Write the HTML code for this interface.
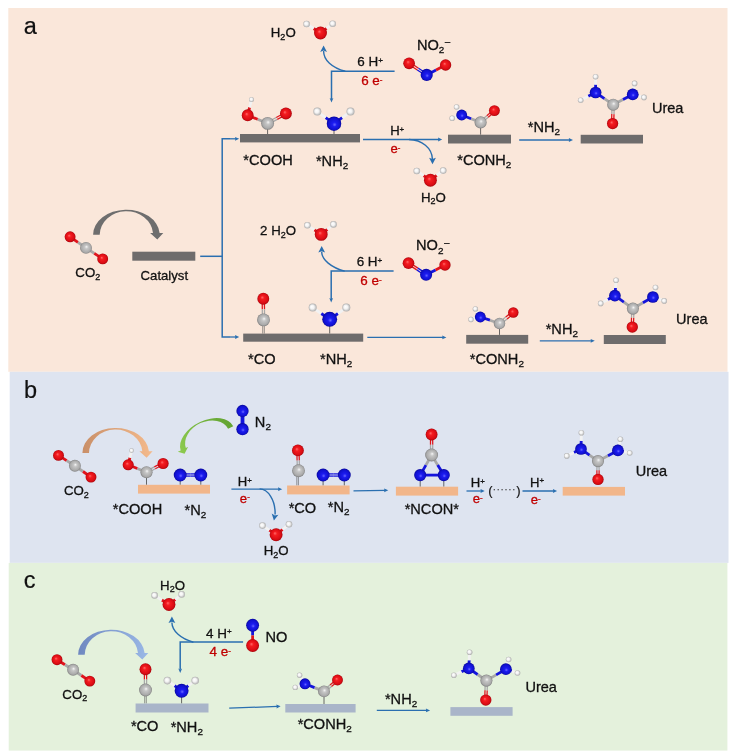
<!DOCTYPE html><html><head><meta charset="utf-8"><style>html,body{margin:0;padding:0;background:#fff;}svg{display:block;will-change:transform;filter:blur(0.3px);}text{font-family:"Liberation Sans",sans-serif;}</style></head><body>
<svg width="739" height="754" viewBox="0 0 739 754">
<defs>
<radialGradient id="gO" cx="50%" cy="50%" r="50%" fx="40%" fy="38%"><stop offset="0" stop-color="#FF6A6A"/><stop offset="0.3" stop-color="#F41C20"/><stop offset="0.8" stop-color="#DA0C14"/><stop offset="1" stop-color="#A8060C"/></radialGradient>
<radialGradient id="gN" cx="50%" cy="50%" r="50%" fx="55%" fy="58%"><stop offset="0" stop-color="#6A6AFF"/><stop offset="0.3" stop-color="#1C1CF0"/><stop offset="0.8" stop-color="#1010D0"/><stop offset="1" stop-color="#08089A"/></radialGradient>
<radialGradient id="gC" cx="50%" cy="50%" r="50%" fx="55%" fy="40%"><stop offset="0" stop-color="#F6F6F6"/><stop offset="0.3" stop-color="#C6C6C6"/><stop offset="0.8" stop-color="#AAAAAA"/><stop offset="1" stop-color="#808080"/></radialGradient>
<radialGradient id="gH" cx="50%" cy="50%" r="55%" fx="38%" fy="38%"><stop offset="0" stop-color="#FFFFFF"/><stop offset="0.45" stop-color="#F2F2F2"/><stop offset="1" stop-color="#A0A0A0"/></radialGradient>
<linearGradient id="gOr" x1="0" y1="0" x2="1" y2="0"><stop offset="0" stop-color="#C98F68"/><stop offset="1" stop-color="#F4BA8C"/></linearGradient>
<linearGradient id="gGr" x1="0" y1="0" x2="1" y2="0"><stop offset="0" stop-color="#62A332"/><stop offset="1" stop-color="#8ECB50"/></linearGradient>
<linearGradient id="gBl" x1="0" y1="0" x2="1" y2="0"><stop offset="0" stop-color="#6F88C0"/><stop offset="1" stop-color="#9AB8E6"/></linearGradient>
</defs>
<rect x="8.3" y="8" width="719.2" height="363.8" fill="#FAE7DA"/>
<rect x="9.7" y="371.8" width="718.8" height="191.1" fill="#DEE4F0"/>
<rect x="8.7" y="562.9" width="718.7" height="187.7" fill="#E4F1DC"/>
<line x1="320.5" y1="33.0" x2="313.6" y2="28.5" stroke="#E0141C" stroke-width="2.8"/>
<line x1="313.6" y1="28.5" x2="306.6" y2="24.0" stroke="#F2F2F2" stroke-width="2.8"/>
<line x1="320.5" y1="33.0" x2="326.6" y2="28.4" stroke="#E0141C" stroke-width="2.8"/>
<line x1="326.6" y1="28.4" x2="332.7" y2="23.7" stroke="#F2F2F2" stroke-width="2.8"/>
<circle cx="320.5" cy="33.0" r="6.45" fill="url(#gO)"/>
<circle cx="306.6" cy="24.0" r="3.30" fill="url(#gH)"/>
<circle cx="332.7" cy="23.7" r="3.30" fill="url(#gH)"/>
<path d="M345.3,71.2 C332,68 323.5,60 323.6,51" fill="none" stroke="#2A6FB0" stroke-width="1.4"/>
<polygon points="323.6,45.4 327.0,51.9 323.6,50.6 320.2,51.9" fill="#2A6FB0"/>
<polyline points="394.6,71.2 331.5,71.2 331.5,99" fill="none" stroke="#2A6FB0" stroke-width="1.5"/>
<polygon points="331.5,102.5 329.6,98.0 331.5,98.9 333.4,98.0" fill="#2A6FB0"/>
<line x1="409.7" y1="62.4" x2="418.5" y2="68.2" stroke="#E0141C" stroke-width="1.26"/>
<line x1="418.5" y1="68.2" x2="427.3" y2="74.0" stroke="#1414DC" stroke-width="1.26"/>
<line x1="408.5" y1="64.2" x2="417.3" y2="70.0" stroke="#E0141C" stroke-width="1.26"/>
<line x1="417.3" y1="70.0" x2="426.1" y2="75.8" stroke="#1414DC" stroke-width="1.26"/>
<line x1="426.7" y1="74.9" x2="436.1" y2="70.0" stroke="#1414DC" stroke-width="2.8"/>
<line x1="436.1" y1="70.0" x2="445.6" y2="65.0" stroke="#E0141C" stroke-width="2.8"/>
<circle cx="409.1" cy="63.3" r="5.85" fill="url(#gO)"/>
<circle cx="426.7" cy="74.9" r="6.05" fill="url(#gN)"/>
<circle cx="445.6" cy="65.0" r="5.65" fill="url(#gO)"/>
<line x1="267.6" y1="128" x2="267.6" y2="134" stroke="#444" stroke-width="0.8"/>
<line x1="334" y1="129" x2="334" y2="134" stroke="#444" stroke-width="0.8"/>
<rect x="240" y="134" width="120.0" height="8.4" fill="#6E6C6C"/>
<line x1="267.6" y1="123.4" x2="257.6" y2="119.3" stroke="#A8A8A8" stroke-width="2.8"/>
<line x1="257.6" y1="119.3" x2="247.7" y2="115.3" stroke="#E0141C" stroke-width="2.8"/>
<line x1="267.1" y1="122.4" x2="276.2" y2="117.5" stroke="#A8A8A8" stroke-width="1.26"/>
<line x1="276.2" y1="117.5" x2="285.4" y2="112.5" stroke="#E0141C" stroke-width="1.26"/>
<line x1="268.1" y1="124.4" x2="277.3" y2="119.4" stroke="#A8A8A8" stroke-width="1.26"/>
<line x1="277.3" y1="119.4" x2="286.4" y2="114.5" stroke="#E0141C" stroke-width="1.26"/>
<line x1="247.7" y1="115.3" x2="249.6" y2="107.4" stroke="#E0141C" stroke-width="2.8"/>
<line x1="249.6" y1="107.4" x2="251.5" y2="99.5" stroke="#F2F2F2" stroke-width="2.8"/>
<circle cx="267.6" cy="123.4" r="6.45" fill="url(#gC)"/>
<circle cx="247.7" cy="115.3" r="5.95" fill="url(#gO)"/>
<circle cx="285.9" cy="113.5" r="5.95" fill="url(#gO)"/>
<circle cx="251.5" cy="99.5" r="2.50" fill="url(#gH)"/>
<line x1="334.0" y1="123.7" x2="325.6" y2="117.7" stroke="#1414DC" stroke-width="2.8"/>
<line x1="325.6" y1="117.7" x2="317.3" y2="111.6" stroke="#F2F2F2" stroke-width="2.8"/>
<line x1="334.0" y1="123.7" x2="342.2" y2="117.7" stroke="#1414DC" stroke-width="2.8"/>
<line x1="342.2" y1="117.7" x2="350.5" y2="111.6" stroke="#F2F2F2" stroke-width="2.8"/>
<circle cx="334.0" cy="123.7" r="7.25" fill="url(#gN)"/>
<circle cx="317.3" cy="111.6" r="4.00" fill="url(#gH)"/>
<circle cx="350.5" cy="111.6" r="4.00" fill="url(#gH)"/>
<polyline points="200.2,256.3 222.2,256.3" fill="none" stroke="#2A6FB0" stroke-width="1.5"/>
<polyline points="230,138.8 222.2,138.8 222.2,337 230,337" fill="none" stroke="#2A6FB0" stroke-width="1.5"/>
<line x1="230" y1="138.8" x2="236.20" y2="138.80" stroke="#2A6FB0" stroke-width="1.3"/>
<polygon points="239.2,138.8 235.0,140.7 235.4,138.8 235.0,136.9" fill="#2A6FB0"/>
<line x1="230" y1="337" x2="236.20" y2="337.00" stroke="#2A6FB0" stroke-width="1.3"/>
<polygon points="239.2,337.0 235.0,338.9 235.4,337.0 235.0,335.1" fill="#2A6FB0"/>
<line x1="363" y1="139.5" x2="439.20" y2="139.50" stroke="#2A6FB0" stroke-width="1.3"/>
<polygon points="442.2,139.5 438.0,141.4 438.4,139.5 438.0,137.6" fill="#2A6FB0"/>
<path d="M409,139.5 C422,139.8 432,148 432.4,159" fill="none" stroke="#2A6FB0" stroke-width="1.4"/>
<polygon points="432.5,164.2 429.1,157.7 432.5,159.0 435.9,157.7" fill="#2A6FB0"/>
<line x1="430.4" y1="180.2" x2="423.6" y2="175.6" stroke="#E0141C" stroke-width="2.8"/>
<line x1="423.6" y1="175.6" x2="416.8" y2="171.0" stroke="#F2F2F2" stroke-width="2.8"/>
<line x1="430.4" y1="180.2" x2="436.8" y2="175.4" stroke="#E0141C" stroke-width="2.8"/>
<line x1="436.8" y1="175.4" x2="443.2" y2="170.6" stroke="#F2F2F2" stroke-width="2.8"/>
<circle cx="430.4" cy="180.2" r="6.45" fill="url(#gO)"/>
<circle cx="416.8" cy="171.0" r="3.30" fill="url(#gH)"/>
<circle cx="443.2" cy="170.6" r="3.30" fill="url(#gH)"/>
<line x1="480.6" y1="128" x2="480.6" y2="134.7" stroke="#444" stroke-width="0.8"/>
<rect x="448" y="134.7" width="63.0" height="8.8" fill="#6E6C6C"/>
<line x1="479.9" y1="121.6" x2="486.8" y2="115.7" stroke="#A8A8A8" stroke-width="1.26"/>
<line x1="486.8" y1="115.7" x2="493.7" y2="109.8" stroke="#E0141C" stroke-width="1.26"/>
<line x1="481.3" y1="123.2" x2="488.2" y2="117.3" stroke="#A8A8A8" stroke-width="1.26"/>
<line x1="488.2" y1="117.3" x2="495.1" y2="111.4" stroke="#E0141C" stroke-width="1.26"/>
<line x1="480.6" y1="122.4" x2="471.1" y2="118.7" stroke="#A8A8A8" stroke-width="2.8"/>
<line x1="471.1" y1="118.7" x2="461.7" y2="115.0" stroke="#1414DC" stroke-width="2.8"/>
<line x1="461.7" y1="115.0" x2="459.1" y2="111.0" stroke="#1414DC" stroke-width="2.8"/>
<line x1="459.1" y1="111.0" x2="456.6" y2="107.0" stroke="#F2F2F2" stroke-width="2.8"/>
<line x1="461.7" y1="115.0" x2="456.9" y2="116.7" stroke="#1414DC" stroke-width="2.8"/>
<line x1="456.9" y1="116.7" x2="452.2" y2="118.3" stroke="#F2F2F2" stroke-width="2.8"/>
<circle cx="480.6" cy="122.4" r="6.05" fill="url(#gC)"/>
<circle cx="494.4" cy="110.6" r="5.45" fill="url(#gO)"/>
<circle cx="461.7" cy="115.0" r="5.45" fill="url(#gN)"/>
<circle cx="456.6" cy="107.0" r="2.80" fill="url(#gH)"/>
<circle cx="452.2" cy="118.3" r="2.80" fill="url(#gH)"/>
<line x1="519.2" y1="140" x2="570.00" y2="140.00" stroke="#2A6FB0" stroke-width="1.3"/>
<polygon points="573.0,140.0 568.8,141.9 569.2,140.0 568.8,138.1" fill="#2A6FB0"/>
<rect x="580.7" y="134.8" width="62.3" height="8.7" fill="#6E6C6C"/>
<line x1="614.3" y1="104.7" x2="614.0" y2="114.2" stroke="#A8A8A8" stroke-width="1.26"/>
<line x1="614.0" y1="114.2" x2="613.7" y2="123.6" stroke="#E0141C" stroke-width="1.26"/>
<line x1="612.1" y1="104.7" x2="611.8" y2="114.1" stroke="#A8A8A8" stroke-width="1.26"/>
<line x1="611.8" y1="114.1" x2="611.5" y2="123.6" stroke="#E0141C" stroke-width="1.26"/>
<line x1="613.2" y1="104.7" x2="604.4" y2="98.6" stroke="#A8A8A8" stroke-width="2.8"/>
<line x1="604.4" y1="98.6" x2="595.6" y2="92.5" stroke="#1414DC" stroke-width="2.8"/>
<line x1="613.2" y1="104.7" x2="623.0" y2="99.6" stroke="#A8A8A8" stroke-width="2.8"/>
<line x1="623.0" y1="99.6" x2="632.7" y2="94.4" stroke="#1414DC" stroke-width="2.8"/>
<line x1="595.6" y1="92.5" x2="595.6" y2="84.6" stroke="#1414DC" stroke-width="2.8"/>
<line x1="595.6" y1="84.6" x2="595.6" y2="76.7" stroke="#F2F2F2" stroke-width="2.8"/>
<line x1="595.6" y1="92.5" x2="588.2" y2="96.3" stroke="#1414DC" stroke-width="2.8"/>
<line x1="588.2" y1="96.3" x2="580.7" y2="100.2" stroke="#F2F2F2" stroke-width="2.8"/>
<line x1="632.7" y1="94.4" x2="633.7" y2="88.9" stroke="#1414DC" stroke-width="2.8"/>
<line x1="633.7" y1="88.9" x2="634.6" y2="83.4" stroke="#F2F2F2" stroke-width="2.8"/>
<line x1="632.7" y1="94.4" x2="638.4" y2="95.9" stroke="#1414DC" stroke-width="2.8"/>
<line x1="638.4" y1="95.9" x2="644.0" y2="97.4" stroke="#F2F2F2" stroke-width="2.8"/>
<circle cx="613.2" cy="104.7" r="6.05" fill="url(#gC)"/>
<circle cx="612.6" cy="123.6" r="5.65" fill="url(#gO)"/>
<circle cx="595.6" cy="92.5" r="5.85" fill="url(#gN)"/>
<circle cx="632.7" cy="94.4" r="5.85" fill="url(#gN)"/>
<circle cx="595.6" cy="76.7" r="2.80" fill="url(#gH)"/>
<circle cx="580.7" cy="100.2" r="2.80" fill="url(#gH)"/>
<circle cx="634.6" cy="83.4" r="2.80" fill="url(#gH)"/>
<circle cx="644.0" cy="97.4" r="2.80" fill="url(#gH)"/>
<line x1="70.1" y1="236.8" x2="78.0" y2="242.4" stroke="#E0141C" stroke-width="2.8"/>
<line x1="78.0" y1="242.4" x2="86.0" y2="247.9" stroke="#A8A8A8" stroke-width="2.8"/>
<line x1="86.0" y1="247.9" x2="94.3" y2="253.4" stroke="#A8A8A8" stroke-width="2.8"/>
<line x1="94.3" y1="253.4" x2="102.7" y2="258.9" stroke="#E0141C" stroke-width="2.8"/>
<circle cx="70.1" cy="236.8" r="5.45" fill="url(#gO)"/>
<circle cx="86.0" cy="247.9" r="5.95" fill="url(#gC)"/>
<circle cx="102.7" cy="258.9" r="5.45" fill="url(#gO)"/>
<path transform="translate(126.4,234.7)" d="M-33.3,0 A33.3,25.2 0 0 1 33.2,-1.8 L36.9,-1.8 L30.9,4.7 L23.7,-1.8 L26.6,-1.8 A26.7,23.7 0 0 0 -26.7,0 Z" fill="#6E6E6E"/>
<rect x="132.3" y="251.7" width="63.0" height="9.0" fill="#6E6C6C"/>
<line x1="321.2" y1="234.4" x2="314.3" y2="229.9" stroke="#E0141C" stroke-width="2.8"/>
<line x1="314.3" y1="229.9" x2="307.4" y2="225.3" stroke="#F2F2F2" stroke-width="2.8"/>
<line x1="321.2" y1="234.4" x2="327.4" y2="229.4" stroke="#E0141C" stroke-width="2.8"/>
<line x1="327.4" y1="229.4" x2="333.5" y2="224.4" stroke="#F2F2F2" stroke-width="2.8"/>
<circle cx="321.2" cy="234.4" r="6.45" fill="url(#gO)"/>
<circle cx="307.4" cy="225.3" r="3.30" fill="url(#gH)"/>
<circle cx="333.5" cy="224.4" r="3.30" fill="url(#gH)"/>
<path d="M344.7,271.1 C331.4,267.7 321.6,259.7 321.7,251.7" fill="none" stroke="#2A6FB0" stroke-width="1.4"/>
<polygon points="321.7,246.1 325.1,252.6 321.7,251.3 318.3,252.6" fill="#2A6FB0"/>
<polyline points="393.6,271 331.2,271 331.2,299" fill="none" stroke="#2A6FB0" stroke-width="1.5"/>
<polygon points="331.2,302.5 329.3,298.0 331.2,298.9 333.1,298.0" fill="#2A6FB0"/>
<line x1="409.1" y1="262.3" x2="417.9" y2="268.1" stroke="#E0141C" stroke-width="1.26"/>
<line x1="417.9" y1="268.1" x2="426.7" y2="273.9" stroke="#1414DC" stroke-width="1.26"/>
<line x1="407.9" y1="264.1" x2="416.7" y2="269.9" stroke="#E0141C" stroke-width="1.26"/>
<line x1="416.7" y1="269.9" x2="425.5" y2="275.7" stroke="#1414DC" stroke-width="1.26"/>
<line x1="426.1" y1="274.8" x2="435.6" y2="270.0" stroke="#1414DC" stroke-width="2.8"/>
<line x1="435.6" y1="270.0" x2="445.0" y2="265.1" stroke="#E0141C" stroke-width="2.8"/>
<circle cx="408.5" cy="263.2" r="5.85" fill="url(#gO)"/>
<circle cx="426.1" cy="274.8" r="6.05" fill="url(#gN)"/>
<circle cx="445.0" cy="265.1" r="5.65" fill="url(#gO)"/>
<line x1="262.7" y1="326" x2="262.7" y2="333.6" stroke="#555" stroke-width="0.6"/>
<line x1="264.3" y1="326" x2="264.3" y2="333.6" stroke="#555" stroke-width="0.6"/>
<line x1="329.7" y1="326" x2="329.7" y2="333.6" stroke="#444" stroke-width="0.8"/>
<rect x="243.2" y="333.6" width="120.0" height="8.1" fill="#6E6C6C"/>
<line x1="264.4" y1="298.7" x2="264.5" y2="309.3" stroke="#E0141C" stroke-width="1.26"/>
<line x1="264.5" y1="309.3" x2="264.6" y2="319.9" stroke="#A8A8A8" stroke-width="1.26"/>
<line x1="262.2" y1="298.7" x2="262.3" y2="309.3" stroke="#E0141C" stroke-width="1.26"/>
<line x1="262.3" y1="309.3" x2="262.4" y2="319.9" stroke="#A8A8A8" stroke-width="1.26"/>
<circle cx="263.3" cy="298.7" r="5.95" fill="url(#gO)"/>
<circle cx="263.5" cy="319.9" r="6.45" fill="url(#gC)"/>
<line x1="329.7" y1="319.3" x2="321.2" y2="313.5" stroke="#1414DC" stroke-width="2.8"/>
<line x1="321.2" y1="313.5" x2="312.7" y2="307.6" stroke="#F2F2F2" stroke-width="2.8"/>
<line x1="329.7" y1="319.3" x2="338.0" y2="313.5" stroke="#1414DC" stroke-width="2.8"/>
<line x1="338.0" y1="313.5" x2="346.3" y2="307.6" stroke="#F2F2F2" stroke-width="2.8"/>
<circle cx="329.7" cy="319.3" r="7.45" fill="url(#gN)"/>
<circle cx="312.7" cy="307.6" r="4.00" fill="url(#gH)"/>
<circle cx="346.3" cy="307.6" r="4.00" fill="url(#gH)"/>
<line x1="367.3" y1="337.4" x2="443.40" y2="337.40" stroke="#2A6FB0" stroke-width="1.3"/>
<polygon points="446.4,337.4 442.2,339.3 442.6,337.4 442.2,335.5" fill="#2A6FB0"/>
<line x1="499.5" y1="328" x2="499.5" y2="334.9" stroke="#444" stroke-width="0.8"/>
<rect x="466.2" y="334.9" width="62.0" height="8.8" fill="#6E6C6C"/>
<line x1="498.8" y1="322.6" x2="505.7" y2="317.1" stroke="#A8A8A8" stroke-width="1.26"/>
<line x1="505.7" y1="317.1" x2="512.6" y2="311.6" stroke="#E0141C" stroke-width="1.26"/>
<line x1="500.2" y1="324.4" x2="507.1" y2="318.9" stroke="#A8A8A8" stroke-width="1.26"/>
<line x1="507.1" y1="318.9" x2="514.0" y2="313.4" stroke="#E0141C" stroke-width="1.26"/>
<line x1="499.5" y1="323.5" x2="489.9" y2="320.2" stroke="#A8A8A8" stroke-width="2.8"/>
<line x1="489.9" y1="320.2" x2="480.3" y2="317.0" stroke="#1414DC" stroke-width="2.8"/>
<line x1="480.3" y1="317.0" x2="477.9" y2="312.9" stroke="#1414DC" stroke-width="2.8"/>
<line x1="477.9" y1="312.9" x2="475.4" y2="308.9" stroke="#F2F2F2" stroke-width="2.8"/>
<line x1="480.3" y1="317.0" x2="475.6" y2="318.2" stroke="#1414DC" stroke-width="2.8"/>
<line x1="475.6" y1="318.2" x2="471.0" y2="319.5" stroke="#F2F2F2" stroke-width="2.8"/>
<circle cx="499.5" cy="323.5" r="5.75" fill="url(#gC)"/>
<circle cx="513.3" cy="312.5" r="5.25" fill="url(#gO)"/>
<circle cx="480.3" cy="317.0" r="5.45" fill="url(#gN)"/>
<circle cx="475.4" cy="308.9" r="2.70" fill="url(#gH)"/>
<circle cx="471.0" cy="319.5" r="2.70" fill="url(#gH)"/>
<line x1="539.8" y1="340.8" x2="591.80" y2="340.80" stroke="#2A6FB0" stroke-width="1.3"/>
<polygon points="594.8,340.8 590.6,342.7 591.0,340.8 590.6,338.9" fill="#2A6FB0"/>
<rect x="603.8" y="335" width="62.0" height="9.0" fill="#6E6C6C"/>
<line x1="634.0" y1="308.6" x2="633.7" y2="317.9" stroke="#A8A8A8" stroke-width="1.26"/>
<line x1="633.7" y1="317.9" x2="633.4" y2="327.1" stroke="#E0141C" stroke-width="1.26"/>
<line x1="631.8" y1="308.6" x2="631.5" y2="317.8" stroke="#A8A8A8" stroke-width="1.26"/>
<line x1="631.5" y1="317.8" x2="631.2" y2="327.1" stroke="#E0141C" stroke-width="1.26"/>
<line x1="632.9" y1="308.6" x2="623.9" y2="302.1" stroke="#A8A8A8" stroke-width="2.8"/>
<line x1="623.9" y1="302.1" x2="614.9" y2="295.7" stroke="#1414DC" stroke-width="2.8"/>
<line x1="632.9" y1="308.6" x2="642.9" y2="302.8" stroke="#A8A8A8" stroke-width="2.8"/>
<line x1="642.9" y1="302.8" x2="652.9" y2="297.0" stroke="#1414DC" stroke-width="2.8"/>
<line x1="614.9" y1="295.7" x2="615.5" y2="288.0" stroke="#1414DC" stroke-width="2.8"/>
<line x1="615.5" y1="288.0" x2="616.1" y2="280.3" stroke="#F2F2F2" stroke-width="2.8"/>
<line x1="614.9" y1="295.7" x2="607.8" y2="299.5" stroke="#1414DC" stroke-width="2.8"/>
<line x1="607.8" y1="299.5" x2="600.7" y2="303.4" stroke="#F2F2F2" stroke-width="2.8"/>
<line x1="652.9" y1="297.0" x2="654.2" y2="292.2" stroke="#1414DC" stroke-width="2.8"/>
<line x1="654.2" y1="292.2" x2="655.5" y2="287.5" stroke="#F2F2F2" stroke-width="2.8"/>
<line x1="652.9" y1="297.0" x2="658.5" y2="298.9" stroke="#1414DC" stroke-width="2.8"/>
<line x1="658.5" y1="298.9" x2="664.2" y2="300.9" stroke="#F2F2F2" stroke-width="2.8"/>
<circle cx="632.9" cy="308.6" r="6.05" fill="url(#gC)"/>
<circle cx="632.3" cy="327.1" r="5.65" fill="url(#gO)"/>
<circle cx="614.9" cy="295.7" r="5.85" fill="url(#gN)"/>
<circle cx="652.9" cy="297.0" r="5.85" fill="url(#gN)"/>
<circle cx="616.1" cy="280.3" r="2.80" fill="url(#gH)"/>
<circle cx="600.7" cy="303.4" r="2.80" fill="url(#gH)"/>
<circle cx="655.5" cy="287.5" r="2.80" fill="url(#gH)"/>
<circle cx="664.2" cy="300.9" r="2.80" fill="url(#gH)"/>
<line x1="58.5" y1="455.4" x2="66.7" y2="460.6" stroke="#E0141C" stroke-width="2.8"/>
<line x1="66.7" y1="460.6" x2="74.9" y2="465.8" stroke="#A8A8A8" stroke-width="2.8"/>
<line x1="74.9" y1="465.8" x2="83.0" y2="471.5" stroke="#A8A8A8" stroke-width="2.8"/>
<line x1="83.0" y1="471.5" x2="91.0" y2="477.1" stroke="#E0141C" stroke-width="2.8"/>
<circle cx="58.5" cy="455.4" r="5.45" fill="url(#gO)"/>
<circle cx="74.9" cy="465.8" r="5.95" fill="url(#gC)"/>
<circle cx="91.0" cy="477.1" r="5.45" fill="url(#gO)"/>
<path transform="translate(115.7,453.0)" d="M-33.3,0 A33.3,25.2 0 0 1 33.2,-1.8 L36.9,-1.8 L30.9,4.7 L23.7,-1.8 L26.6,-1.8 A26.7,23.7 0 0 0 -26.7,0 Z" fill="url(#gOr)"/>
<line x1="146.5" y1="477" x2="146.5" y2="484.8" stroke="#444" stroke-width="0.8"/>
<line x1="180.2" y1="480" x2="180.2" y2="484.8" stroke="#444" stroke-width="0.8"/>
<line x1="200.8" y1="480" x2="200.8" y2="484.8" stroke="#444" stroke-width="0.8"/>
<rect x="138" y="484.8" width="72.0" height="8.8" fill="#F2B68A"/>
<line x1="146.5" y1="472.2" x2="137.3" y2="468.5" stroke="#A8A8A8" stroke-width="2.8"/>
<line x1="137.3" y1="468.5" x2="128.2" y2="464.8" stroke="#E0141C" stroke-width="2.8"/>
<line x1="146.0" y1="471.2" x2="154.3" y2="466.9" stroke="#A8A8A8" stroke-width="1.26"/>
<line x1="154.3" y1="466.9" x2="162.6" y2="462.5" stroke="#E0141C" stroke-width="1.26"/>
<line x1="147.0" y1="473.2" x2="155.3" y2="468.8" stroke="#A8A8A8" stroke-width="1.26"/>
<line x1="155.3" y1="468.8" x2="163.6" y2="464.5" stroke="#E0141C" stroke-width="1.26"/>
<line x1="128.2" y1="464.8" x2="129.9" y2="457.7" stroke="#E0141C" stroke-width="2.8"/>
<line x1="129.9" y1="457.7" x2="131.6" y2="450.6" stroke="#F2F2F2" stroke-width="2.8"/>
<circle cx="146.5" cy="472.2" r="6.05" fill="url(#gC)"/>
<circle cx="128.2" cy="464.8" r="5.55" fill="url(#gO)"/>
<circle cx="163.1" cy="463.5" r="5.55" fill="url(#gO)"/>
<circle cx="131.6" cy="450.6" r="2.30" fill="url(#gH)"/>
<line x1="180.2" y1="473.9" x2="190.5" y2="473.9" stroke="#1414DC" stroke-width="1.26"/>
<line x1="190.5" y1="473.9" x2="200.8" y2="473.9" stroke="#1414DC" stroke-width="1.26"/>
<line x1="180.2" y1="476.1" x2="190.5" y2="476.1" stroke="#1414DC" stroke-width="1.26"/>
<line x1="190.5" y1="476.1" x2="200.8" y2="476.1" stroke="#1414DC" stroke-width="1.26"/>
<circle cx="180.2" cy="475.0" r="6.45" fill="url(#gN)"/>
<circle cx="200.8" cy="475.0" r="6.45" fill="url(#gN)"/>
<line x1="242.5" y1="411" x2="242.5" y2="420" stroke="#1414DC" stroke-width="3.8"/><line x1="242.5" y1="420" x2="242.5" y2="429.2" stroke="#1414DC" stroke-width="3.8"/>
<circle cx="242.5" cy="411.0" r="6.15" fill="url(#gN)"/>
<circle cx="242.5" cy="429.2" r="6.15" fill="url(#gN)"/>
<path transform="translate(207.21,438.88) rotate(-26.1) scale(-0.87,0.73)" d="M-33.3,0 A33.3,25.2 0 0 1 33.2,-1.8 L36.9,-1.8 L30.9,4.7 L23.7,-1.8 L26.6,-1.8 A26.7,23.7 0 0 0 -26.7,0 Z" fill="url(#gGr)"/>
<line x1="231.4" y1="489.2" x2="279.20" y2="489.20" stroke="#2A6FB0" stroke-width="1.3"/>
<polygon points="282.2,489.2 278.0,491.1 278.4,489.2 278.0,487.3" fill="#2A6FB0"/>
<path d="M259.6,488.9 C268,489 275.5,500 275.1,514.5" fill="none" stroke="#2A6FB0" stroke-width="1.4"/>
<polygon points="273.9,520.6 271.7,513.6 274.8,515.5 278.4,514.8" fill="#2A6FB0"/>
<line x1="276.1" y1="534.7" x2="269.3" y2="530.2" stroke="#E0141C" stroke-width="2.8"/>
<line x1="269.3" y1="530.2" x2="262.5" y2="525.6" stroke="#F2F2F2" stroke-width="2.8"/>
<line x1="276.1" y1="534.7" x2="282.6" y2="529.5" stroke="#E0141C" stroke-width="2.8"/>
<line x1="282.6" y1="529.5" x2="289.0" y2="524.3" stroke="#F2F2F2" stroke-width="2.8"/>
<circle cx="276.1" cy="534.7" r="6.45" fill="url(#gO)"/>
<circle cx="262.5" cy="525.6" r="3.30" fill="url(#gH)"/>
<circle cx="289.0" cy="524.3" r="3.30" fill="url(#gH)"/>
<line x1="296.8" y1="476.5" x2="296.8" y2="485.5" stroke="#555" stroke-width="0.6"/>
<line x1="298.4" y1="476.5" x2="298.4" y2="485.5" stroke="#555" stroke-width="0.6"/>
<line x1="323.1" y1="480" x2="323.1" y2="485.5" stroke="#444" stroke-width="0.8"/>
<line x1="344.3" y1="480" x2="344.3" y2="485.5" stroke="#444" stroke-width="0.8"/>
<rect x="287.1" y="485.5" width="62.5" height="8.9" fill="#F2B68A"/>
<line x1="299.0" y1="450.4" x2="299.3" y2="460.5" stroke="#E0141C" stroke-width="1.26"/>
<line x1="299.3" y1="460.5" x2="299.6" y2="470.7" stroke="#A8A8A8" stroke-width="1.26"/>
<line x1="296.8" y1="450.4" x2="297.1" y2="460.6" stroke="#E0141C" stroke-width="1.26"/>
<line x1="297.1" y1="460.6" x2="297.4" y2="470.7" stroke="#A8A8A8" stroke-width="1.26"/>
<circle cx="297.9" cy="450.4" r="5.95" fill="url(#gO)"/>
<circle cx="298.5" cy="470.7" r="6.45" fill="url(#gC)"/>
<line x1="323.1" y1="473.9" x2="333.7" y2="473.9" stroke="#1414DC" stroke-width="1.26"/>
<line x1="333.7" y1="473.9" x2="344.3" y2="473.9" stroke="#1414DC" stroke-width="1.26"/>
<line x1="323.1" y1="476.1" x2="333.7" y2="476.1" stroke="#1414DC" stroke-width="1.26"/>
<line x1="333.7" y1="476.1" x2="344.3" y2="476.1" stroke="#1414DC" stroke-width="1.26"/>
<circle cx="323.1" cy="475.0" r="6.45" fill="url(#gN)"/>
<circle cx="344.3" cy="475.0" r="6.45" fill="url(#gN)"/>
<line x1="353.5" y1="490.8" x2="385.30" y2="490.34" stroke="#2A6FB0" stroke-width="1.3"/>
<polygon points="388.3,490.3 384.1,492.3 384.5,490.4 384.1,488.5" fill="#2A6FB0"/>
<line x1="420.2" y1="480" x2="420.2" y2="486.7" stroke="#444" stroke-width="0.8"/>
<line x1="443.8" y1="480" x2="443.8" y2="486.7" stroke="#444" stroke-width="0.8"/>
<rect x="395.9" y="486.7" width="62.2" height="8.9" fill="#F2B68A"/>
<line x1="432.7" y1="434.5" x2="432.7" y2="444.8" stroke="#E0141C" stroke-width="1.26"/>
<line x1="432.7" y1="444.8" x2="432.7" y2="455.0" stroke="#A8A8A8" stroke-width="1.26"/>
<line x1="430.5" y1="434.5" x2="430.5" y2="444.8" stroke="#E0141C" stroke-width="1.26"/>
<line x1="430.5" y1="444.8" x2="430.5" y2="455.0" stroke="#A8A8A8" stroke-width="1.26"/>
<line x1="431.6" y1="455.0" x2="425.9" y2="465.1" stroke="#A8A8A8" stroke-width="2.8"/>
<line x1="425.9" y1="465.1" x2="420.2" y2="475.1" stroke="#1414DC" stroke-width="2.8"/>
<line x1="431.6" y1="455.0" x2="437.7" y2="465.1" stroke="#A8A8A8" stroke-width="2.8"/>
<line x1="437.7" y1="465.1" x2="443.8" y2="475.1" stroke="#1414DC" stroke-width="2.8"/>
<line x1="420.2" y1="475.1" x2="432.0" y2="475.1" stroke="#1414DC" stroke-width="2.8"/>
<line x1="432.0" y1="475.1" x2="443.8" y2="475.1" stroke="#1414DC" stroke-width="2.8"/>
<circle cx="431.6" cy="434.5" r="5.95" fill="url(#gO)"/>
<circle cx="431.6" cy="455.0" r="6.45" fill="url(#gC)"/>
<circle cx="420.2" cy="475.1" r="6.05" fill="url(#gN)"/>
<circle cx="443.8" cy="475.1" r="6.05" fill="url(#gN)"/>
<line x1="466.5" y1="491" x2="481.70" y2="491.00" stroke="#2A6FB0" stroke-width="1.3"/>
<polygon points="484.7,491.0 480.5,492.9 480.9,491.0 480.5,489.1" fill="#2A6FB0"/>
<text x="488.3" y="495.0" font-size="13" fill="#111" stroke="#111" stroke-width="0.2" text-anchor="start">(</text>
<rect x="493.70" y="489.1" width="1.2" height="1.2" fill="#333"/>
<rect x="497.60" y="489.1" width="1.2" height="1.2" fill="#333"/>
<rect x="501.50" y="489.1" width="1.2" height="1.2" fill="#333"/>
<rect x="505.40" y="489.1" width="1.2" height="1.2" fill="#333"/>
<rect x="509.30" y="489.1" width="1.2" height="1.2" fill="#333"/>
<rect x="513.20" y="489.1" width="1.2" height="1.2" fill="#333"/>
<text x="516.3" y="495.0" font-size="13" fill="#111" stroke="#111" stroke-width="0.2" text-anchor="start">)</text>
<line x1="522.5" y1="491" x2="554.10" y2="491.00" stroke="#2A6FB0" stroke-width="1.3"/>
<polygon points="557.1,491.0 552.9,492.9 553.3,491.0 552.9,489.1" fill="#2A6FB0"/>
<rect x="562.7" y="486.9" width="62.3" height="8.7" fill="#F2B68A"/>
<line x1="599.1" y1="461.1" x2="599.1" y2="470.2" stroke="#A8A8A8" stroke-width="1.26"/>
<line x1="599.1" y1="470.2" x2="599.1" y2="479.4" stroke="#E0141C" stroke-width="1.26"/>
<line x1="596.9" y1="461.1" x2="596.9" y2="470.2" stroke="#A8A8A8" stroke-width="1.26"/>
<line x1="596.9" y1="470.2" x2="596.9" y2="479.4" stroke="#E0141C" stroke-width="1.26"/>
<line x1="598.0" y1="461.1" x2="589.5" y2="455.1" stroke="#A8A8A8" stroke-width="2.8"/>
<line x1="589.5" y1="455.1" x2="581.0" y2="449.0" stroke="#1414DC" stroke-width="2.8"/>
<line x1="598.0" y1="461.1" x2="608.0" y2="455.8" stroke="#A8A8A8" stroke-width="2.8"/>
<line x1="608.0" y1="455.8" x2="617.9" y2="450.4" stroke="#1414DC" stroke-width="2.8"/>
<line x1="581.0" y1="449.0" x2="581.2" y2="440.9" stroke="#1414DC" stroke-width="2.8"/>
<line x1="581.2" y1="440.9" x2="581.4" y2="432.7" stroke="#F2F2F2" stroke-width="2.8"/>
<line x1="581.0" y1="449.0" x2="573.9" y2="452.4" stroke="#1414DC" stroke-width="2.8"/>
<line x1="573.9" y1="452.4" x2="566.8" y2="455.9" stroke="#F2F2F2" stroke-width="2.8"/>
<line x1="617.9" y1="450.4" x2="619.1" y2="444.8" stroke="#1414DC" stroke-width="2.8"/>
<line x1="619.1" y1="444.8" x2="620.4" y2="439.2" stroke="#F2F2F2" stroke-width="2.8"/>
<line x1="617.9" y1="450.4" x2="623.8" y2="451.7" stroke="#1414DC" stroke-width="2.8"/>
<line x1="623.8" y1="451.7" x2="629.7" y2="453.0" stroke="#F2F2F2" stroke-width="2.8"/>
<circle cx="598.0" cy="461.1" r="6.05" fill="url(#gC)"/>
<circle cx="598.0" cy="479.4" r="5.65" fill="url(#gO)"/>
<circle cx="581.0" cy="449.0" r="5.85" fill="url(#gN)"/>
<circle cx="617.9" cy="450.4" r="5.85" fill="url(#gN)"/>
<circle cx="581.4" cy="432.7" r="2.80" fill="url(#gH)"/>
<circle cx="566.8" cy="455.9" r="2.80" fill="url(#gH)"/>
<circle cx="620.4" cy="439.2" r="2.80" fill="url(#gH)"/>
<circle cx="629.7" cy="453.0" r="2.80" fill="url(#gH)"/>
<line x1="57.0" y1="659.7" x2="65.0" y2="664.8" stroke="#E0141C" stroke-width="2.8"/>
<line x1="65.0" y1="664.8" x2="73.1" y2="669.8" stroke="#A8A8A8" stroke-width="2.8"/>
<line x1="73.1" y1="669.8" x2="81.4" y2="675.5" stroke="#A8A8A8" stroke-width="2.8"/>
<line x1="81.4" y1="675.5" x2="89.8" y2="681.1" stroke="#E0141C" stroke-width="2.8"/>
<circle cx="57.0" cy="659.7" r="5.45" fill="url(#gO)"/>
<circle cx="73.1" cy="669.8" r="5.95" fill="url(#gC)"/>
<circle cx="89.8" cy="681.1" r="5.45" fill="url(#gO)"/>
<path transform="translate(111.4,654.7)" d="M-33.3,0 A33.3,25.2 0 0 1 33.2,-1.8 L36.9,-1.8 L30.9,4.7 L23.7,-1.8 L26.6,-1.8 A26.7,23.7 0 0 0 -26.7,0 Z" fill="url(#gBl)"/>
<line x1="144.7" y1="696" x2="144.7" y2="703.5" stroke="#555" stroke-width="0.6"/>
<line x1="146.3" y1="696" x2="146.3" y2="703.5" stroke="#555" stroke-width="0.6"/>
<line x1="181.6" y1="697" x2="181.6" y2="703.5" stroke="#444" stroke-width="0.8"/>
<rect x="135.6" y="703.5" width="72.9" height="9.0" fill="#A9B5C9"/>
<line x1="146.6" y1="669.2" x2="146.6" y2="679.6" stroke="#E0141C" stroke-width="1.26"/>
<line x1="146.6" y1="679.6" x2="146.6" y2="690.0" stroke="#A8A8A8" stroke-width="1.26"/>
<line x1="144.4" y1="669.2" x2="144.4" y2="679.6" stroke="#E0141C" stroke-width="1.26"/>
<line x1="144.4" y1="679.6" x2="144.4" y2="690.0" stroke="#A8A8A8" stroke-width="1.26"/>
<circle cx="145.5" cy="669.2" r="5.95" fill="url(#gO)"/>
<circle cx="145.5" cy="690.0" r="6.45" fill="url(#gC)"/>
<line x1="181.6" y1="690.8" x2="174.5" y2="685.7" stroke="#1414DC" stroke-width="2.8"/>
<line x1="174.5" y1="685.7" x2="167.4" y2="680.6" stroke="#F2F2F2" stroke-width="2.8"/>
<line x1="181.6" y1="690.8" x2="188.4" y2="685.7" stroke="#1414DC" stroke-width="2.8"/>
<line x1="188.4" y1="685.7" x2="195.2" y2="680.6" stroke="#F2F2F2" stroke-width="2.8"/>
<circle cx="181.6" cy="690.8" r="6.95" fill="url(#gN)"/>
<circle cx="167.4" cy="680.6" r="3.80" fill="url(#gH)"/>
<circle cx="195.2" cy="680.6" r="3.80" fill="url(#gH)"/>
<line x1="169.0" y1="604.5" x2="161.8" y2="600.0" stroke="#E0141C" stroke-width="2.8"/>
<line x1="161.8" y1="600.0" x2="154.6" y2="595.4" stroke="#F2F2F2" stroke-width="2.8"/>
<line x1="169.0" y1="604.5" x2="175.3" y2="599.5" stroke="#E0141C" stroke-width="2.8"/>
<line x1="175.3" y1="599.5" x2="181.6" y2="594.4" stroke="#F2F2F2" stroke-width="2.8"/>
<circle cx="169.0" cy="604.5" r="6.45" fill="url(#gO)"/>
<circle cx="154.6" cy="595.4" r="3.30" fill="url(#gH)"/>
<circle cx="181.6" cy="594.4" r="3.30" fill="url(#gH)"/>
<path d="M193.4,642.2 C181,639 172,631 171.9,622.5" fill="none" stroke="#2A6FB0" stroke-width="1.4"/>
<polygon points="171.9,616.5 175.3,623.0 171.9,621.7 168.5,623.0" fill="#2A6FB0"/>
<polyline points="243.1,642 180.2,642 180.2,669.5" fill="none" stroke="#2A6FB0" stroke-width="1.5"/>
<polygon points="180.2,673.1 178.3,668.6 180.2,669.5 182.1,668.6" fill="#2A6FB0"/>
<line x1="252.6" y1="625.2" x2="252.6" y2="635.4" stroke="#1414DC" stroke-width="2.8"/>
<line x1="252.6" y1="635.4" x2="252.6" y2="645.5" stroke="#E0141C" stroke-width="2.8"/>
<circle cx="252.6" cy="625.2" r="6.45" fill="url(#gN)"/>
<circle cx="252.6" cy="645.5" r="6.45" fill="url(#gO)"/>
<line x1="229.2" y1="708.2" x2="277.60" y2="706.41" stroke="#2A6FB0" stroke-width="1.3"/>
<polygon points="280.6,706.3 276.5,708.4 276.8,706.4 276.3,704.6" fill="#2A6FB0"/>
<line x1="324" y1="696" x2="324" y2="704" stroke="#444" stroke-width="0.8"/>
<rect x="285.3" y="704" width="70.3" height="8.5" fill="#A9B5C9"/>
<line x1="323.3" y1="690.6" x2="330.0" y2="684.9" stroke="#A8A8A8" stroke-width="1.26"/>
<line x1="330.0" y1="684.9" x2="336.8" y2="679.2" stroke="#E0141C" stroke-width="1.26"/>
<line x1="324.7" y1="692.2" x2="331.5" y2="686.5" stroke="#A8A8A8" stroke-width="1.26"/>
<line x1="331.5" y1="686.5" x2="338.2" y2="680.8" stroke="#E0141C" stroke-width="1.26"/>
<line x1="324.0" y1="691.4" x2="314.5" y2="687.6" stroke="#A8A8A8" stroke-width="2.8"/>
<line x1="314.5" y1="687.6" x2="305.0" y2="683.8" stroke="#1414DC" stroke-width="2.8"/>
<line x1="305.0" y1="683.8" x2="302.3" y2="679.5" stroke="#1414DC" stroke-width="2.8"/>
<line x1="302.3" y1="679.5" x2="299.6" y2="675.2" stroke="#F2F2F2" stroke-width="2.8"/>
<line x1="305.0" y1="683.8" x2="300.1" y2="685.6" stroke="#1414DC" stroke-width="2.8"/>
<line x1="300.1" y1="685.6" x2="295.3" y2="687.4" stroke="#F2F2F2" stroke-width="2.8"/>
<circle cx="324.0" cy="691.4" r="5.95" fill="url(#gC)"/>
<circle cx="337.5" cy="680.0" r="5.45" fill="url(#gO)"/>
<circle cx="305.0" cy="683.8" r="5.45" fill="url(#gN)"/>
<circle cx="299.6" cy="675.2" r="2.70" fill="url(#gH)"/>
<circle cx="295.3" cy="687.4" r="2.70" fill="url(#gH)"/>
<line x1="376.8" y1="710.4" x2="427.10" y2="710.40" stroke="#2A6FB0" stroke-width="1.3"/>
<polygon points="430.1,710.4 425.9,712.3 426.3,710.4 425.9,708.5" fill="#2A6FB0"/>
<rect x="450.4" y="707.1" width="62.2" height="8.7" fill="#A9B5C9"/>
<line x1="487.5" y1="680.6" x2="487.2" y2="690.4" stroke="#A8A8A8" stroke-width="1.26"/>
<line x1="487.2" y1="690.4" x2="486.9" y2="700.1" stroke="#E0141C" stroke-width="1.26"/>
<line x1="485.3" y1="680.6" x2="485.0" y2="690.3" stroke="#A8A8A8" stroke-width="1.26"/>
<line x1="485.0" y1="690.3" x2="484.7" y2="700.1" stroke="#E0141C" stroke-width="1.26"/>
<line x1="486.4" y1="680.6" x2="477.6" y2="674.5" stroke="#A8A8A8" stroke-width="2.8"/>
<line x1="477.6" y1="674.5" x2="468.8" y2="668.4" stroke="#1414DC" stroke-width="2.8"/>
<line x1="486.4" y1="680.6" x2="496.1" y2="674.9" stroke="#A8A8A8" stroke-width="2.8"/>
<line x1="496.1" y1="674.9" x2="505.9" y2="669.2" stroke="#1414DC" stroke-width="2.8"/>
<line x1="468.8" y1="668.4" x2="469.2" y2="660.3" stroke="#1414DC" stroke-width="2.8"/>
<line x1="469.2" y1="660.3" x2="469.6" y2="652.2" stroke="#F2F2F2" stroke-width="2.8"/>
<line x1="468.8" y1="668.4" x2="461.4" y2="671.8" stroke="#1414DC" stroke-width="2.8"/>
<line x1="461.4" y1="671.8" x2="453.9" y2="675.2" stroke="#F2F2F2" stroke-width="2.8"/>
<line x1="505.9" y1="669.2" x2="507.2" y2="664.4" stroke="#1414DC" stroke-width="2.8"/>
<line x1="507.2" y1="664.4" x2="508.6" y2="659.5" stroke="#F2F2F2" stroke-width="2.8"/>
<line x1="505.9" y1="669.2" x2="511.7" y2="671.1" stroke="#1414DC" stroke-width="2.8"/>
<line x1="511.7" y1="671.1" x2="517.5" y2="673.0" stroke="#F2F2F2" stroke-width="2.8"/>
<circle cx="486.4" cy="680.6" r="6.05" fill="url(#gC)"/>
<circle cx="485.8" cy="700.1" r="5.65" fill="url(#gO)"/>
<circle cx="468.8" cy="668.4" r="5.85" fill="url(#gN)"/>
<circle cx="505.9" cy="669.2" r="5.85" fill="url(#gN)"/>
<circle cx="469.6" cy="652.2" r="2.80" fill="url(#gH)"/>
<circle cx="453.9" cy="675.2" r="2.80" fill="url(#gH)"/>
<circle cx="508.6" cy="659.5" r="2.80" fill="url(#gH)"/>
<circle cx="517.5" cy="673.0" r="2.80" fill="url(#gH)"/>
<text x="23.74" y="33.56" font-size="23.5" fill="#111111" stroke="#111111" stroke-width="0.2">a</text>
<text x="270.79" y="37.49" font-size="13.25" fill="#111111" stroke="#111111" stroke-width="0.3">H<tspan font-size='0.68em' dy='0.31em'>2</tspan><tspan dy='-0.2108em'>O</tspan></text>
<text x="357.21" y="66.31" font-size="13.45" fill="#111111" stroke="#111111" stroke-width="0.3">6 H<tspan font-size='0.6em' dy='-0.4em'>+</tspan></text>
<text x="361.15" y="85.46" font-size="13.45" fill="#C00000" stroke="#C00000" stroke-width="0.3">6 e<tspan font-size='0.6em' dy='-0.4em'>-</tspan></text>
<text x="416.89" y="50.2" font-size="14.6" fill="#111111" stroke="#111111" stroke-width="0.3">NO<tspan font-size='0.68em' dy='0.31em'>2</tspan><tspan dy='-0.64em' font-size='0.74em'>−</tspan></text>
<text x="243.36" y="165.13" font-size="14.6" fill="#111111" stroke="#111111" stroke-width="0.3">*COOH</text>
<text x="315.93" y="166.35" font-size="14.6" fill="#111111" stroke="#111111" stroke-width="0.3">*NH<tspan font-size='0.68em' dy='0.31em'>2</tspan></text>
<text x="390.14" y="134.84" font-size="13.1" fill="#111111" stroke="#111111" stroke-width="0.3">H<tspan font-size='0.6em' dy='-0.4em'>+</tspan></text>
<text x="390.49" y="153.37" font-size="13.1" fill="#C00000" stroke="#C00000" stroke-width="0.3">e<tspan font-size='0.6em' dy='-0.4em'>-</tspan></text>
<text x="421.02" y="201.62" font-size="13.25" fill="#111111" stroke="#111111" stroke-width="0.3">H<tspan font-size='0.68em' dy='0.31em'>2</tspan><tspan dy='-0.2108em'>O</tspan></text>
<text x="457.21" y="164.9" font-size="14.6" fill="#111111" stroke="#111111" stroke-width="0.3">*CONH<tspan font-size='0.68em' dy='0.31em'>2</tspan></text>
<text x="527.81" y="131.73" font-size="14.6" fill="#111111" stroke="#111111" stroke-width="0.3">*NH<tspan font-size='0.68em' dy='0.31em'>2</tspan></text>
<text x="651.99" y="113.2" font-size="14.5" fill="#111111" stroke="#111111" stroke-width="0.3">Urea</text>
<text x="75.33" y="277.46" font-size="13.25" fill="#111111" stroke="#111111" stroke-width="0.3">CO<tspan font-size='0.68em' dy='0.31em'>2</tspan></text>
<text x="140.59" y="280.33" font-size="13.15" fill="#111111" stroke="#111111" stroke-width="0.3">Catalyst</text>
<text x="260.12" y="235.11" font-size="13.25" fill="#111111" stroke="#111111" stroke-width="0.3">2 H<tspan font-size='0.68em' dy='0.31em'>2</tspan><tspan dy='-0.2108em'>O</tspan></text>
<text x="356.66" y="266.12" font-size="13.45" fill="#111111" stroke="#111111" stroke-width="0.3">6 H<tspan font-size='0.6em' dy='-0.4em'>+</tspan></text>
<text x="360.31" y="285.35" font-size="13.45" fill="#C00000" stroke="#C00000" stroke-width="0.3">6 e<tspan font-size='0.6em' dy='-0.4em'>-</tspan></text>
<text x="416.06" y="250.46" font-size="14.6" fill="#111111" stroke="#111111" stroke-width="0.3">NO<tspan font-size='0.68em' dy='0.31em'>2</tspan><tspan dy='-0.64em' font-size='0.74em'>−</tspan></text>
<text x="248.02" y="363.88" font-size="14.6" fill="#111111" stroke="#111111" stroke-width="0.3">*CO</text>
<text x="320.03" y="364.15" font-size="14.6" fill="#111111" stroke="#111111" stroke-width="0.3">*NH<tspan font-size='0.68em' dy='0.31em'>2</tspan></text>
<text x="469.72" y="364.0" font-size="14.6" fill="#111111" stroke="#111111" stroke-width="0.3">*CONH<tspan font-size='0.68em' dy='0.31em'>2</tspan></text>
<text x="545.69" y="334.07" font-size="14.6" fill="#111111" stroke="#111111" stroke-width="0.3">*NH<tspan font-size='0.68em' dy='0.31em'>2</tspan></text>
<text x="676.12" y="323.74" font-size="14.5" fill="#111111" stroke="#111111" stroke-width="0.3">Urea</text>
<text x="23.98" y="397.99" font-size="23.5" fill="#111111" stroke="#111111" stroke-width="0.2">b</text>
<text x="63.93" y="495.07" font-size="13.25" fill="#111111" stroke="#111111" stroke-width="0.3">CO<tspan font-size='0.68em' dy='0.31em'>2</tspan></text>
<text x="112.73" y="513.8" font-size="14.6" fill="#111111" stroke="#111111" stroke-width="0.3">*COOH</text>
<text x="184.62" y="514.56" font-size="14.6" fill="#111111" stroke="#111111" stroke-width="0.3">*N<tspan font-size='0.68em' dy='0.31em'>2</tspan></text>
<text x="254.87" y="426.71" font-size="14.6" fill="#111111" stroke="#111111" stroke-width="0.3">N<tspan font-size='0.68em' dy='0.31em'>2</tspan></text>
<text x="237.76" y="486.34" font-size="13.1" fill="#111111" stroke="#111111" stroke-width="0.3">H<tspan font-size='0.6em' dy='-0.4em'>+</tspan></text>
<text x="239.85" y="502.51" font-size="13.1" fill="#C00000" stroke="#C00000" stroke-width="0.3">e<tspan font-size='0.6em' dy='-0.4em'>-</tspan></text>
<text x="263.71" y="554.77" font-size="13.25" fill="#111111" stroke="#111111" stroke-width="0.3">H<tspan font-size='0.68em' dy='0.31em'>2</tspan><tspan dy='-0.2108em'>O</tspan></text>
<text x="288.63" y="512.98" font-size="14.6" fill="#111111" stroke="#111111" stroke-width="0.3">*CO</text>
<text x="327.87" y="511.95" font-size="14.6" fill="#111111" stroke="#111111" stroke-width="0.3">*N<tspan font-size='0.68em' dy='0.31em'>2</tspan></text>
<text x="404.64" y="513.5" font-size="14.6" fill="#111111" stroke="#111111" stroke-width="0.3">*NCON*</text>
<text x="470.82" y="486.75" font-size="13.1" fill="#111111" stroke="#111111" stroke-width="0.3">H<tspan font-size='0.6em' dy='-0.4em'>+</tspan></text>
<text x="472.78" y="503.49" font-size="13.1" fill="#C00000" stroke="#C00000" stroke-width="0.3">e<tspan font-size='0.6em' dy='-0.4em'>-</tspan></text>
<text x="530.09" y="486.63" font-size="13.1" fill="#111111" stroke="#111111" stroke-width="0.3">H<tspan font-size='0.6em' dy='-0.4em'>+</tspan></text>
<text x="530.76" y="504.37" font-size="13.1" fill="#C00000" stroke="#C00000" stroke-width="0.3">e<tspan font-size='0.6em' dy='-0.4em'>-</tspan></text>
<text x="635.75" y="475.57" font-size="14.5" fill="#111111" stroke="#111111" stroke-width="0.3">Urea</text>
<text x="23.72" y="587.52" font-size="23.5" fill="#111111" stroke="#111111" stroke-width="0.2">c</text>
<text x="62.37" y="698.67" font-size="13.25" fill="#111111" stroke="#111111" stroke-width="0.3">CO<tspan font-size='0.68em' dy='0.31em'>2</tspan></text>
<text x="130.89" y="730.54" font-size="14.6" fill="#111111" stroke="#111111" stroke-width="0.3">*CO</text>
<text x="170.67" y="731.65" font-size="14.6" fill="#111111" stroke="#111111" stroke-width="0.3">*NH<tspan font-size='0.68em' dy='0.31em'>2</tspan></text>
<text x="160.06" y="589.52" font-size="13.25" fill="#111111" stroke="#111111" stroke-width="0.3">H<tspan font-size='0.68em' dy='0.31em'>2</tspan><tspan dy='-0.2108em'>O</tspan></text>
<text x="206.02" y="637.59" font-size="13.45" fill="#111111" stroke="#111111" stroke-width="0.3">4 H<tspan font-size='0.6em' dy='-0.4em'>+</tspan></text>
<text x="209.6" y="656.38" font-size="13.45" fill="#C00000" stroke="#C00000" stroke-width="0.3">4 e<tspan font-size='0.6em' dy='-0.4em'>-</tspan></text>
<text x="265.52" y="642.49" font-size="14.6" fill="#111111" stroke="#111111" stroke-width="0.3">NO</text>
<text x="297.63" y="729.4" font-size="14.6" fill="#111111" stroke="#111111" stroke-width="0.3">*CONH<tspan font-size='0.68em' dy='0.31em'>2</tspan></text>
<text x="384.93" y="703.56" font-size="14.6" fill="#111111" stroke="#111111" stroke-width="0.3">*NH<tspan font-size='0.68em' dy='0.31em'>2</tspan></text>
<text x="525.49" y="691.87" font-size="14.5" fill="#111111" stroke="#111111" stroke-width="0.3">Urea</text>
</svg></body></html>
